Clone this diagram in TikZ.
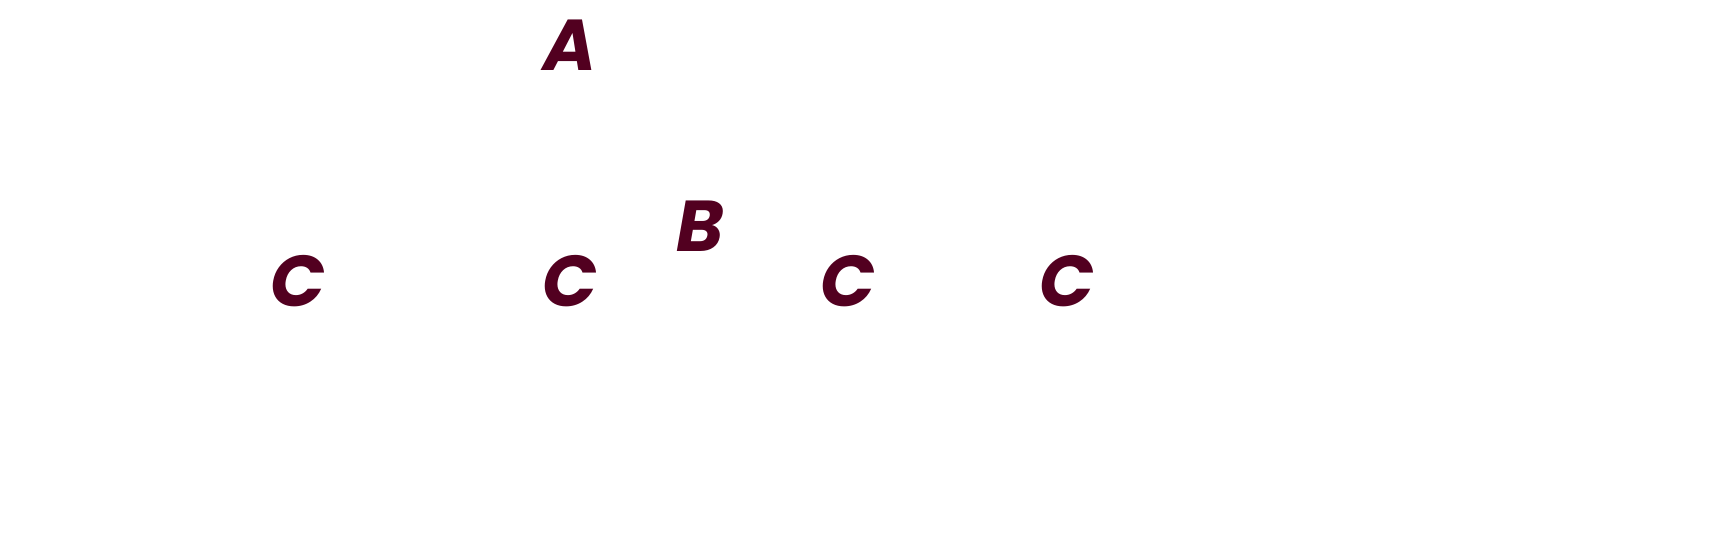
\documentclass[tikz,border=0pt]{standalone}
\usepackage{fontspec}
\setmainfont{Poppins}
\usetikzlibrary{positioning}
\definecolor{maroon}{RGB}{82,0,32}

\begin{document}
\begin{tikzpicture}[
        letter/.style={inner sep=0pt, text=maroon, font=\fontsize{20.5}{21}\selectfont\bfseries\itshape}
    ]
    \useasboundingbox (0,0) rectangle (17.1,-5.54);

    \node[letter] (a) at (5.70,-0.45) {A};
    \node[letter] (b) at (7.00,-2.26) {B};

    \node[letter] (c1) at (2.98,-2.81) {C};
    \node[letter] (c2) at (5.70,-2.81) {C};
    \node[letter] (c3) at (8.48,-2.81) {C};
    \node[letter] (c4) at (10.67,-2.81) {C};

\end{tikzpicture}
\end{document}
